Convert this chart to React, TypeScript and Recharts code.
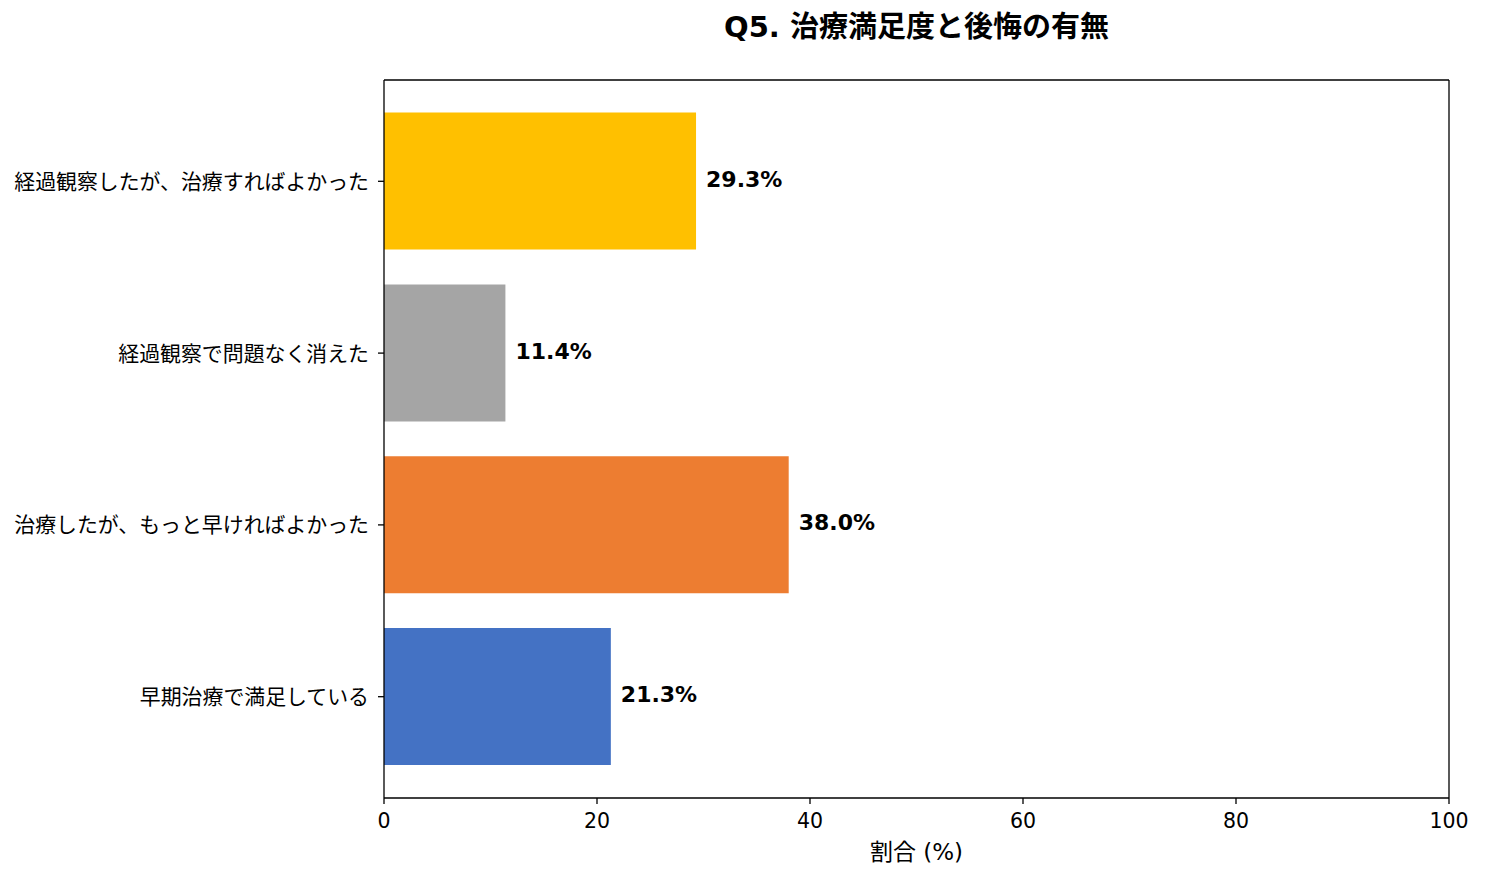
import React from 'react';
import { BarChart, Bar, XAxis, YAxis, Cell, LabelList } from 'recharts';

const categories = [
  '経過観察したが、治療すればよかった',
  '経過観察で問題なく消えた',
  '治療したが、もっと早ければよかった',
  '早期治療で満足している',
];
const values = [29.3, 11.4, 38.0, 21.3];
const colors = ['#FFC000', '#A5A5A5', '#ED7D31', '#4472C4'];
const xTicks = [0, 20, 40, 60, 80, 100];
const title = 'Q5. 治療満足度と後悔の有無';
const xLabel = '割合 (%)';

const data = categories.map((name, i) => ({ name, value: values[i] }));
const FONT = '"DejaVu Sans", "Noto Sans CJK JP", sans-serif';

export default function App() {
  return (
    <div style={{ position: 'absolute', left: 0, top: 0, width: 1486, height: 881, background: '#fff', fontFamily: FONT }}>
      <div style={{ position: 'absolute', left: 384, width: 1065, top: 8, textAlign: 'center', fontSize: 29, fontWeight: 700, color: '#000', lineHeight: '38px' }}>
        {title}
      </div>
      <BarChart
        width={1486}
        height={881}
        data={data}
        layout="vertical"
        margin={{ top: 79, right: 36, bottom: 0, left: 0 }}
        barCategoryGap="10%"
      >
        <XAxis
          xAxisId="main"
          type="number"
          domain={[0, 100]}
          ticks={xTicks}
          height={83}
          tickSize={6}
          tickMargin={9}
          stroke="#000"
          strokeWidth={1.3}
          tick={{ fill: '#000', fontSize: 20.5, fontFamily: FONT }}
          label={{ value: xLabel, position: 'insideBottom', offset: 21, fill: '#000', fontSize: 23, fontFamily: FONT }}
        />
        <XAxis
          xAxisId="top"
          orientation="top"
          type="number"
          domain={[0, 100]}
          height={1}
          tick={false}
          tickLine={false}
          stroke="#000"
          strokeWidth={1.3}
        />
        <YAxis
          yAxisId="main"
          type="category"
          dataKey="name"
          width={384}
          padding={{ top: 15.4, bottom: 15.4 }}
          tickSize={6}
          tickMargin={9}
          stroke="#000"
          strokeWidth={1.3}
          interval={0}
          tick={{ fill: '#000', fontSize: 20.9, fontFamily: FONT }}
        />
        <YAxis
          yAxisId="right"
          orientation="right"
          type="category"
          dataKey="name"
          width={1}
          tick={false}
          tickLine={false}
          stroke="#000"
          strokeWidth={1.3}
        />
        <Bar dataKey="value" xAxisId="main" yAxisId="main" isAnimationActive={false}>
          {data.map((d, i) => (
            <Cell key={d.name} fill={colors[i]} />
          ))}
          <LabelList
            dataKey="value"
            position="right"
            offset={10}
            dy={-2}
            formatter={(v: number) => `${v.toFixed(1)}%`}
            style={{ fill: '#000', fontSize: 22, fontWeight: 700, fontFamily: FONT }}
          />
        </Bar>
      </BarChart>
    </div>
  );
}
